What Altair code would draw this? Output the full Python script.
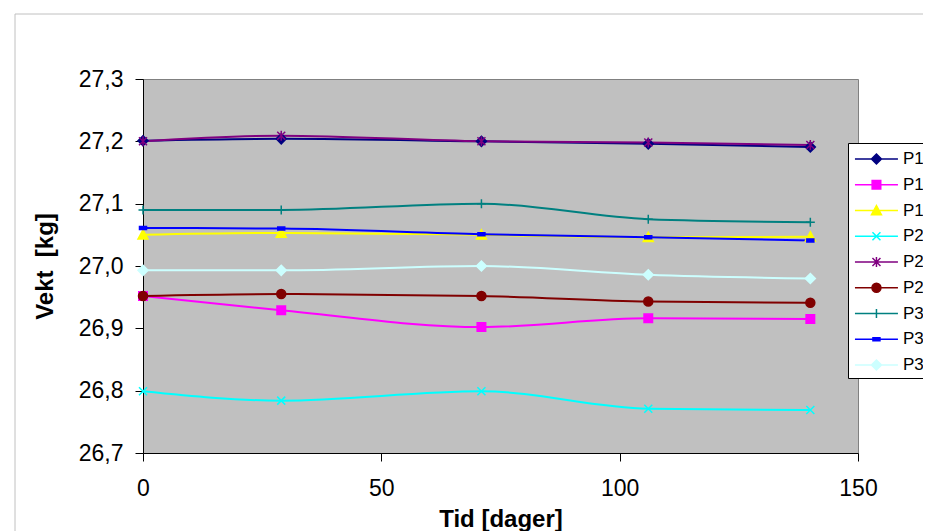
import altair as alt
import pandas as pd

# ---- data ----
days = [0, 29, 71, 106, 140]
series_names = ["P1M1", "P1M2", "P1M3", "P2M1", "P2M2", "P2M3", "P3M1", "P3M2", "P3M3"]
p1m1 = [27.201, 27.204, 27.200, 27.196, 27.191]
p1m2 = [26.952, 26.929, 26.902, 26.916, 26.915]
p1m3 = [27.050, 27.053, 27.050, 27.046, 27.047]
p2m1 = [26.799, 26.784, 26.799, 26.771, 26.769]
p2m2 = [27.200, 27.209, 27.200, 27.198, 27.194]
p2m3 = [26.952, 26.955, 26.952, 26.943, 26.941]
p3m1 = [27.090, 27.090, 27.100, 27.075, 27.070]
p3m2 = [27.061, 27.060, 27.051, 27.046, 27.041]
p3m3 = [26.993, 26.993, 27.000, 26.986, 26.980]
series_values = [p1m1, p1m2, p1m3, p2m1, p2m2, p2m3, p3m1, p3m2, p3m3]

x_ticks = [0, 50, 100, 150]
y_ticks = [26.7, 26.8, 26.9, 27.0, 27.1, 27.2, 27.3]

# ---- styles ----
series_colors = ["#000080", "#FF00FF", "#FFFF00", "#00FFFF", "#800080",
                 "#800000", "#008080", "#0000FF", "#CCFFFF"]
marker_paths = [
    "M0,-1L1,0L0,1L-1,0Z",                                   # diamond
    "M-0.85,-0.85H0.85V0.85H-0.85Z",                         # square
    "M0,-1L1,0.85L-1,0.85Z",                                 # triangle
    "M-0.8,-0.8L0.8,0.8M-0.8,0.8L0.8,-0.8",                  # x
    "M-0.8,-0.8L0.8,0.8M-0.8,0.8L0.8,-0.8M0,-1V1",           # asterisk
    "M-0.9,0A0.9,0.9,0,1,1,0.9,0A0.9,0.9,0,1,1,-0.9,0Z",     # circle
    "M-0.9,0H0.9M0,-0.9V0.9",                                # plus
    "M-0.7,-0.3H0.7V0.3H-0.7Z",                              # dash
    "M0,-1L1,0L0,1L-1,0Z",                                   # diamond
]
# legend glyphs: a line segment with the marker in its middle (1 unit = 10 px)
LEG_LINE = "M-2.15,0H2.15"
legend_paths = [
    LEG_LINE + "M0,-0.5L0.5,0L0,0.5L-0.5,0Z",
    LEG_LINE + "M-0.43,-0.43H0.43V0.43H-0.43Z",
    LEG_LINE + "M0,-0.5L0.5,0.43L-0.5,0.43Z",
    LEG_LINE + "M-0.4,-0.4L0.4,0.4M-0.4,0.4L0.4,-0.4",
    LEG_LINE + "M-0.4,-0.4L0.4,0.4M-0.4,0.4L0.4,-0.4M0,-0.5V0.5",
    LEG_LINE + "M-0.45,0A0.45,0.45,0,1,1,0.45,0A0.45,0.45,0,1,1,-0.45,0Z",
    LEG_LINE + "M0,-0.45V0.45",
    LEG_LINE + "M-0.35,-0.15H0.35V0.15H-0.35Z",
    LEG_LINE + "M0,-0.5L0.5,0L0,0.5L-0.5,0Z",
]

rows = []
for name, vals in zip(series_names, series_values):
    for d, v in zip(days, vals):
        rows.append({"series": name, "day": d, "weight": v})
df = pd.DataFrame(rows)

FONT = "Liberation Sans"

x_enc = alt.X("day:Q",
              scale=alt.Scale(domain=[0, 150], nice=False, zero=False),
              axis=alt.Axis(values=x_ticks, title="Tid [dager]", grid=False,
                            labelFontSize=23, titleFontSize=24, titleFontWeight="bold",
                            labelPadding=16, titlePadding=7, tickSize=8,
                            domainColor="black", tickColor="black",
                            labelColor="black", titleColor="black",
                            labelFont=FONT, titleFont=FONT, labelFlush=False))
y_enc = alt.Y("weight:Q",
              scale=alt.Scale(domain=[26.7, 27.3], nice=False, zero=False),
              axis=alt.Axis(values=y_ticks, title="Vekt\u00a0 [kg]", grid=False,
                            labelExpr="replace(format(datum.value, '.1f'), '.', ',')",
                            labelFontSize=23, titleFontSize=24, titleFontWeight="bold",
                            labelPadding=12, titlePadding=21, tickSize=8,
                            domainColor="black", tickColor="black",
                            labelColor="black", titleColor="black",
                            labelFont=FONT, titleFont=FONT, labelFlush=False))

color_scale = alt.Scale(domain=series_names, range=series_colors)

leg = alt.Legend(orient="none", legendX=705, legendY=64, title=None,
                 strokeColor="black", fillColor="white", padding=5,
                 rowPadding=6.75, labelFontSize=17, labelFont=FONT, labelColor="black",
                 symbolSize=400, symbolStrokeWidth=1.5, symbolOpacity=1,
                 symbolOffset=12.45, labelOffset=15.5, labelLimit=200, columns=1)

frame = alt.Chart(pd.DataFrame({"k": [0]})).mark_rect(
    fillOpacity=0, stroke="#c0c0c0", strokeWidth=1
).encode(x=alt.value(-128), x2=alt.value(1000), y=alt.value(-65), y2=alt.value(700))

lines = alt.Chart(df).mark_line(interpolate="monotone", strokeWidth=2).encode(
    x=x_enc, y=y_enc,
    color=alt.Color("series:N", scale=color_scale, legend=None),
    order=alt.Order("day:Q"),
)

points = alt.Chart(df).mark_point(filled=True, size=100, strokeWidth=1.5, opacity=1).encode(
    x=x_enc, y=y_enc,
    fill=alt.Fill("series:N", scale=color_scale, legend=None),
    stroke=alt.Stroke("series:N", scale=color_scale, legend=None),
    shape=alt.Shape("series:N", scale=alt.Scale(domain=series_names, range=marker_paths), legend=None),
)

legend_layer = alt.Chart(df).transform_filter("datum.day < 0").mark_point(
    filled=True, strokeWidth=1.5, opacity=1
).encode(
    x=x_enc, y=y_enc,
    fill=alt.Fill("series:N", scale=color_scale, legend=leg),
    stroke=alt.Stroke("series:N", scale=color_scale, legend=leg),
    shape=alt.Shape("series:N", scale=alt.Scale(domain=series_names, range=legend_paths), legend=leg),
)

chart = alt.layer(frame, lines, points, legend_layer).resolve_scale(
    fill="independent", stroke="independent", shape="independent"
).properties(
    width=715, height=374,
    autosize=alt.AutoSizeParams(type="none"),
    padding={"left": 135, "top": 71, "right": 65, "bottom": 78},
    background="white",
).configure_view(
    fill="#C0C0C0", stroke="#808080", strokeWidth=1
)

chart.save("out.html", embed_options={"renderer": "svg", "actions": False})
